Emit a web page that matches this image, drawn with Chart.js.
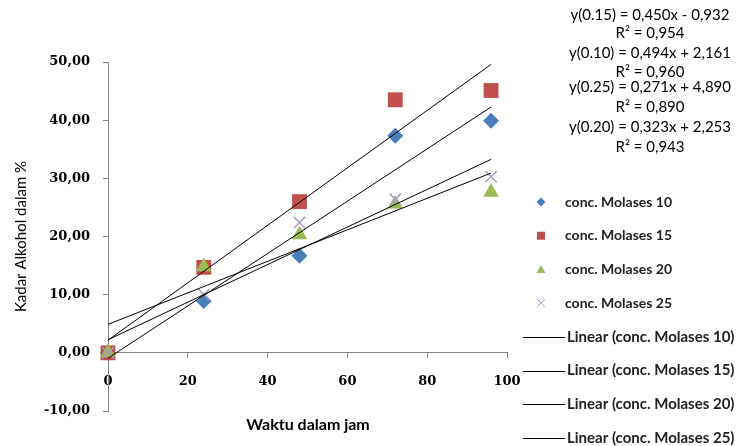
<!DOCTYPE html>
<html>
<head>
<meta charset="utf-8">
<script src="https://cdn.jsdelivr.net/npm/chart.js@4.4.1/dist/chart.umd.min.js"></script>
<style>
  html, body { margin: 0; padding: 0; background: #fff; }
</style>
</head>
<body>
<canvas id="myChart" width="737" height="446"></canvas>
<script>
// fermentation time (jam)
const hours = [0, 24, 48, 72, 96];

// alcohol content (%) per molasses concentration
const molases10 = [0, 8.9, 16.7, 37.3, 39.9];
const molases15 = [0, 14.7, 26.0, 43.5, 45.1];
const molases20 = [0, 14.8, 20.3, 25.6, 27.6];
const molases25 = [0, 10.0, 22.4, 26.4, 30.3];

const seriesNames = ['conc. Molases 10', 'conc. Molases 15', 'conc. Molases 20', 'conc. Molases 25'];

// trendline equations as printed on the chart
const eqNames = ['y(0.15)', 'y(0.10)', 'y(0.25)', 'y(0.20)'];
const slopes = [0.450, 0.494, 0.271, 0.323];
const intercepts = [-0.932, 2.161, 4.890, 2.253];
const rSquared = [0.954, 0.960, 0.890, 0.943];

const yTicks = [-10, 0, 10, 20, 30, 40, 50];
const xTicks = [0, 20, 40, 60, 80, 100];

const colors = ['#4a7ebb', '#c0504d', '#9bbb59', '#a99bc9'];
const styles = ['rectRot', 'rect', 'triangle', 'crossRot'];
const radii = [8, 10.5, 9, 8];

function comma(v) {
    return v.toFixed(3).replace('.', ',');
}

const allSeries = [molases10, molases15, molases20, molases25];

const datasets = [];
allSeries.forEach(function (vals, i) {
    datasets.push({
        label: seriesNames[i],
        data: hours.map(function (h, j) { return { x: h, y: vals[j] }; }),
        showLine: false,
        clip: false,
        pointStyle: styles[i],
        pointRadius: radii[i],
        pointHoverRadius: radii[i],
        backgroundColor: colors[i],
        borderColor: colors[i],
        borderWidth: i == 3 ? 1.5 : 0,
        order: 4 - i
    });
});
allSeries.forEach(function (vals, i) {
    const x0 = hours[0];
    const x1 = hours[hours.length - 1];
    datasets.push({
        label: 'Linear (' + seriesNames[i] + ')',
        data: [{ x: x0, y: slopes[i] * x0 + intercepts[i] }, { x: x1, y: slopes[i] * x1 + intercepts[i] }],
        showLine: true,
        clip: false,
        pointRadius: 0,
        borderColor: '#000',
        borderWidth: 1,
        order: 0
    });
});

function drawMarker(ctx, style, x, y, color) {
    ctx.save();
    ctx.fillStyle = color;
    ctx.strokeStyle = color;
    ctx.beginPath();
    if (style == 'rectRot') {
        ctx.moveTo(x, y - 4.5); ctx.lineTo(x + 4.5, y); ctx.lineTo(x, y + 4.5); ctx.lineTo(x - 4.5, y);
        ctx.closePath(); ctx.fill();
    } else if (style == 'rect') {
        ctx.rect(x - 4, y - 4, 8, 8); ctx.fill();
    } else if (style == 'triangle') {
        ctx.moveTo(x, y - 4.5); ctx.lineTo(x + 4.5, y + 3.5); ctx.lineTo(x - 4.5, y + 3.5);
        ctx.closePath(); ctx.fill();
    } else {
        ctx.lineWidth = 1;
        ctx.moveTo(x - 4, y - 4); ctx.lineTo(x + 4, y + 4);
        ctx.moveTo(x + 4, y - 4); ctx.lineTo(x - 4, y + 4);
        ctx.stroke();
    }
    ctx.restore();
}

const extras = {
    id: 'extras',
    afterDraw: function (chart) {
        const ctx = chart.ctx;
        const area = chart.chartArea;
        ctx.save();
        ctx.fillStyle = '#000';

        // trendline equations
        ctx.font = '15px Lato';
        ctx.textAlign = 'center';
        ctx.textBaseline = 'middle';
        const eqY = [15, 33, 53, 72, 87, 107, 127, 147];
        for (let i = 0; i < 4; i++) {
            const sign = intercepts[i] < 0 ? ' - ' : ' + ';
            ctx.fillText(eqNames[i] + ' = ' + comma(slopes[i]) + 'x' + sign + comma(Math.abs(intercepts[i])), 650, eqY[i * 2]);
            ctx.fillText('R\u00b2 = ' + comma(rSquared[i]), 650, eqY[i * 2 + 1]);
        }

        // legend
        ctx.textAlign = 'left';
        ctx.fillStyle = '#222';
        for (let i = 0; i < 8; i++) {
            const y = 202 + i * 33.7;
            if (i < 4) {
                drawMarker(ctx, styles[i], 541, y, colors[i]);
                ctx.font = 'bold 14px Lato';
            } else {
                ctx.strokeStyle = '#000';
                ctx.lineWidth = 1;
                ctx.beginPath();
                ctx.moveTo(523, Math.round(y) + 0.5);
                ctx.lineTo(565, Math.round(y) + 0.5);
                ctx.stroke();
                ctx.font = 'bold 15px Lato';
            }
            ctx.fillText(chart.data.datasets[i].label, i < 4 ? 565 : 567, y);
        }

        // axis titles
        ctx.fillStyle = '#000';
        ctx.font = 'bold 16px Lato';
        ctx.textAlign = 'center';
        ctx.fillText('Waktu dalam jam', 308, 425);
        ctx.translate(21, (area.top + area.bottom) / 2);
        ctx.rotate(-Math.PI / 2);
        ctx.font = '15px Lato';
        ctx.fillText('Kadar Alkohol dalam %', 0, 0);
        ctx.restore();
    }
};

const config = {
    type: 'scatter',
    data: { datasets: datasets },
    options: {
        responsive: false,
        animation: false,
        layout: { padding: { left: 0, top: 62, right: 230, bottom: 35 } },
        plugins: {
            legend: { display: false },
            tooltip: { enabled: false }
        },
        scales: {
            x: {
                type: 'linear',
                position: { y: 0 },
                min: xTicks[0],
                max: xTicks[xTicks.length - 1],
                afterBuildTicks: function (s) { s.ticks = xTicks.map(function (v) { return { value: v }; }); },
                ticks: {
                    font: { family: 'DejaVu Serif', size: 13, weight: 'bold' },
                    color: '#000',
                    padding: 16
                },
                grid: { drawOnChartArea: false, drawTicks: true, tickLength: 5, color: '#868686' },
                border: { color: '#868686' }
            },
            y: {
                min: yTicks[0],
                max: yTicks[yTicks.length - 1],
                afterBuildTicks: function (s) { s.ticks = yTicks.map(function (v) { return { value: v }; }); },
                afterFit: function (s) { s.width = 108; },
                ticks: {
                    font: { family: 'DejaVu Serif', size: 13, weight: 'bold' },
                    color: '#000',
                    padding: 13,
                    callback: function (v) { return v.toFixed(2).replace('.', ','); }
                },
                grid: { drawOnChartArea: false, drawTicks: true, tickLength: 5, color: '#868686' },
                border: { color: '#868686' }
            }
        }
    },
    plugins: [extras]
};

const myChart = new Chart(document.getElementById('myChart'), config);
</script>
</body>
</html>
